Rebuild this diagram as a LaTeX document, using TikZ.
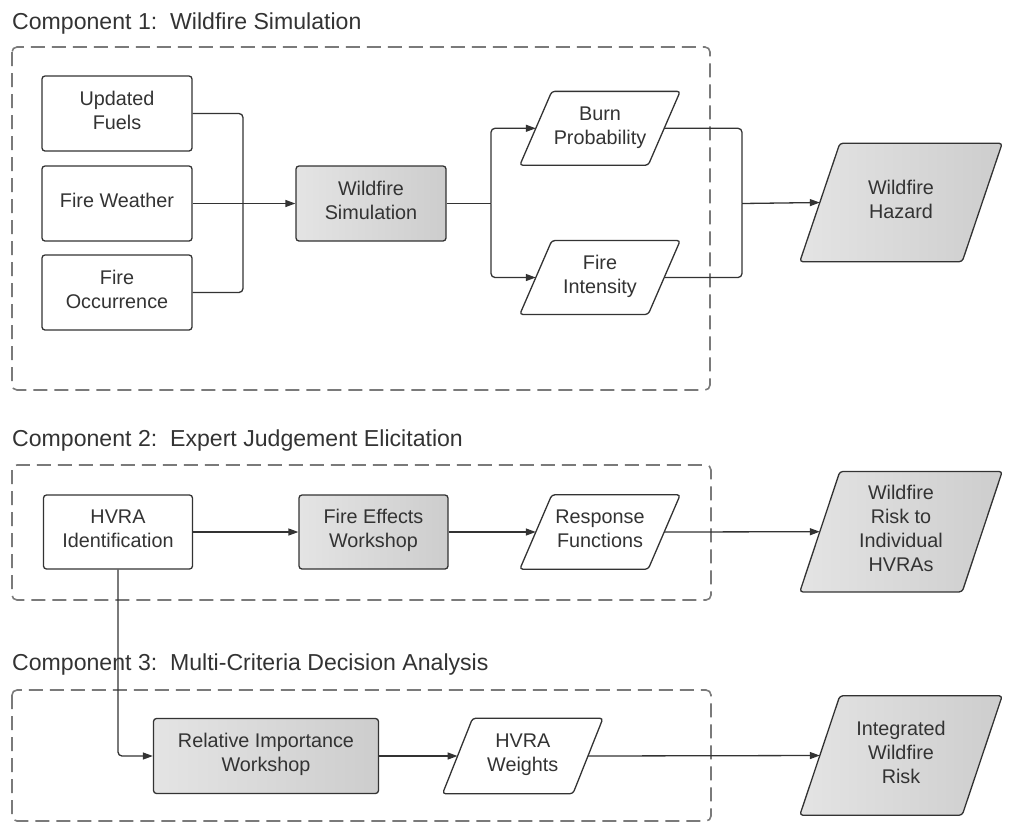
\documentclass[tikz,border=0pt]{standalone}
\usepackage{fontspec}
\setmainfont{Liberation Sans}
\usetikzlibrary{arrows.meta,backgrounds}
\definecolor{ink}{HTML}{333333}
\definecolor{framecol}{HTML}{7A7A7A}
\definecolor{greyA}{HTML}{E4E4E4}
\definecolor{greyB}{HTML}{CDCDCD}
\newcommand\nodefont{\fontsize{19.8}{24}\selectfont}
\newcommand\titlefont{\fontsize{23.1}{27}\selectfont}
\newcommand\up[1]{\raisebox{1pt}[\height][\depth]{\begin{tabular}{@{}c@{}}#1\end{tabular}}}
\tikzset{
 box/.style={draw=ink, line width=1.3pt, rounded corners=3pt, minimum width=150pt, minimum height=75pt, align=center, inner sep=0pt, text=ink, font=\nodefont},
 greybox/.style={box, left color=greyA, right color=greyB},
 paranode/.style={align=center, inner sep=0pt, text=ink, font=\nodefont},
 paraline/.style={draw=ink, line width=1.3pt, rounded corners=3pt},
 conn/.style={draw=ink, line width=1.3pt, rounded corners=4pt},
 arr/.style={conn, -{Triangle[length=10pt,width=7pt]}},
 dframe/.style={draw=framecol, line width=1.6pt, dash pattern=on 14pt off 7pt, rounded corners=5pt},
 title/.style={anchor=base west, inner sep=0pt, text=ink, font=\titlefont},
}
\newcommand\para[3]{\begin{scope}[on background layer]\path[paraline,#3] ([xshift=#2pt]#1.north west) -- ([xshift=#2pt]#1.north east) -- ([xshift=-#2pt]#1.south east) -- ([xshift=-#2pt]#1.south west) -- cycle;\end{scope}}
\begin{document}
\begin{tikzpicture}[x=1pt,y=-1pt]
\useasboundingbox (0,0) rectangle (1011,823);
% titles
\node[title] (t1) at (12,29.5) {Component 1:\ \ Wildfire Simulation};
\node[title] (t2) at (12,446) {Component 2:\ \ Expert Judgement Elicitation};
\node[title] (t3) at (12,670.7) {Component 3:\ \ Multi-Criteria Decision Analysis};
% frames
\draw[dframe] (12,47) rectangle (710,390);
\draw[dframe] (12,465) rectangle (711,600);
\draw[dframe] (12,690) rectangle (711,821);
% component 1
\node[box] (uf) at (117,113.5) {\up{Updated\\Fuels}};
\node[box] (fw) at (117,203.5) {\up{Fire Weather}};
\node[box] (fo) at (117,292.5) {\up{Fire\\Occurrence}};
\node[greybox] (ws) at (371,203.5) {\up{Wildfire\\Simulation}};
\node[paranode, minimum width=128pt, minimum height=73.5pt] (bp) at (600,128.3) {\up{Burn\\Probability}};
\node[paranode, minimum width=128pt, minimum height=73.5pt] (fi) at (600,277.5) {\up{Fire\\Intensity}};
\node[paranode, minimum width=162pt, minimum height=118pt] (wh) at (901,202.5) {\up{Wildfire\\Hazard}};
\para{bp}{16}{fill=white}
\para{fi}{16}{fill=white}
\para{wh}{20}{left color=greyA, right color=greyB}
\coordinate (j1) at (243,203.5);
\coordinate (j2) at (491,203.5);
\coordinate (j3) at (742,203.5);
\draw[conn] (uf.east) -| (j1);
\draw[conn] (fo.east) -| (j1);
\draw[arr] (fw.east) -- (ws.west);
\draw[conn] (ws.east) -- (j2);
\draw[arr] (j2) |- (bp.west);
\draw[arr] (j2) |- (fi.west);
\draw[conn] (bp.east) -| (j3);
\draw[conn] (fi.east) -| (j3);
\draw[arr] (j3) -- (wh.west);
% component 2
\node[box, minimum width=149pt, minimum height=74pt] (hvra) at (118,532) {\up{HVRA\\Identification}};
\node[greybox, minimum width=149pt, minimum height=74pt] (few) at (373.5,532) {\up{Fire Effects\\Workshop}};
\node[paranode, minimum width=128pt, minimum height=74pt] (rf) at (600,532) {\up{Response\\Functions}};
\node[paranode, minimum width=162pt, minimum height=120pt] (wri) at (901,531.7) {\up{Wildfire\\Risk to\\Individual\\HVRAs}};
\para{rf}{16}{fill=white}
\para{wri}{20}{left color=greyA, right color=greyB}
\draw[arr] (hvra.east) -- (few.west);
\draw[arr] (few.east) -- (rf.west);
\draw[arr] (rf.east) -- (wri.west);
% component 3
\node[greybox, minimum width=225pt, minimum height=75pt] (riw) at (266,756) {\up{Relative Importance\\Workshop}};
\node[paranode, minimum width=130pt, minimum height=75pt] (hw) at (522.75,756) {\up{HVRA\\Weights}};
\node[paranode, minimum width=162pt, minimum height=119pt] (iwr) at (901,755.5) {\up{Integrated\\Wildfire\\Risk}};
\para{hw}{15}{fill=white}
\para{iwr}{20}{left color=greyA, right color=greyB}
\draw[arr] (hvra.south) |- (riw.west);
\draw[arr] (riw.east) -- (hw.west);
\draw[arr] (hw.east) -- (iwr.west);
\end{tikzpicture}
\end{document}
